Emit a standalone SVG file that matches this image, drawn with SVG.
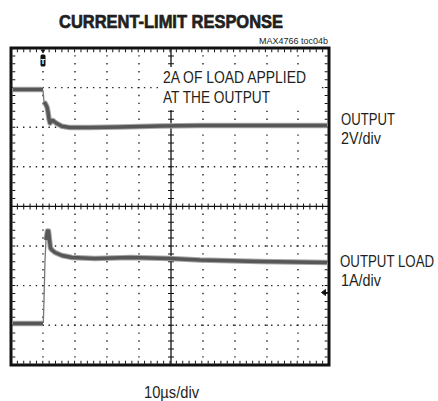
<svg xmlns="http://www.w3.org/2000/svg" width="438" height="401" viewBox="0 0 438 401">
<style>
text{font-family:"Liberation Sans",Arial,sans-serif;fill:#231f20}
.lbl{font-size:16px}
.dv{stroke:#222;stroke-width:1.4;stroke-dasharray:1.4 6.52;fill:none}
.dh{stroke:#222;stroke-width:1.4;stroke-dasharray:1.4 4.96;fill:none}
.tr{fill:none;stroke-linejoin:round;stroke-linecap:butt}
.fz{stroke:#a8a8a8;stroke-width:5.5}
.cr{stroke:#575757;stroke-width:3.5}
.th{stroke:#777;stroke-width:1.3}
</style>
<rect width="438" height="401" fill="#fff"/>
<text x="59" y="28" font-size="19" font-weight="bold" stroke="#231f20" stroke-width="0.7" textLength="224" lengthAdjust="spacingAndGlyphs">CURRENT-LIMIT RESPONSE</text>
<text x="259" y="44" font-size="9" textLength="69" lengthAdjust="spacingAndGlyphs">MAX4766 toc04b</text>
<g id="grid">
<path class="dv" d="M43,55.2V365M75,55.2V365M107,55.2V365M139,55.2V365M203,55.2V365M235,55.2V365M267,55.2V365M298,55.2V365"/>
<path class="dh" d="M16.66,87.6H329M16.66,127.2H329M16.66,166.8H329M16.66,246H329M16.66,285.6H329M16.66,325.2H329"/>
<line x1="10.5" y1="206.4" x2="329" y2="206.4" stroke="#111" stroke-width="6" stroke-dasharray="1 5.36"/>
<line x1="11" y1="206.4" x2="329" y2="206.4" stroke="#111" stroke-width="1.3"/>
<line x1="171" y1="47.5" x2="171" y2="365" stroke="#111" stroke-width="6" stroke-dasharray="1 6.92"/>
<line x1="171" y1="48" x2="171" y2="365" stroke="#111" stroke-width="1.3"/>
<line x1="10.5" y1="50.8" x2="329" y2="50.8" stroke="#111" stroke-width="3" stroke-dasharray="1 5.36"/>
<line x1="10.5" y1="362.2" x2="329" y2="362.2" stroke="#111" stroke-width="3" stroke-dasharray="1 5.36"/>
<line x1="13.8" y1="47.5" x2="13.8" y2="365" stroke="#111" stroke-width="3" stroke-dasharray="1 6.92"/>
<line x1="326.2" y1="47.5" x2="326.2" y2="365" stroke="#111" stroke-width="3" stroke-dasharray="1 6.92"/>
<rect x="11" y="48" width="318" height="317" fill="none" stroke="#111" stroke-width="3"/>
</g>
<g id="traces">
<path class="tr fz" d="M13,89.5 L43,89.5"/>
<path class="tr cr" d="M13,89.5 L43,89.5"/>
<path class="tr th" d="M43,90 L44,102"/>
<path class="tr fz" d="M44,102 L45.5,104 L47,107 L48,112 L49,119 L50,123 L51.5,121 L53,120.5 L56,123 L62,126.3 L70,127.6 L90,127.6 L120,127 L160,126 L200,125.5 L327,125.5"/>
<path class="tr cr" d="M44,102 L45.5,104 L47,107 L48,112 L49,119 L50,123 L51.5,121 L53,120.5 L56,123 L62,126.3 L70,127.6 L90,127.6 L120,127 L160,126 L200,125.5 L327,125.5"/>
<path class="tr fz" d="M13,323.5 L43,323.5"/>
<path class="tr cr" d="M13,323.5 L43,323.5"/>
<path class="tr th" d="M43.3,323 L44,300 L45,260 L46,240"/>
<path class="tr fz" d="M46,240 L47.5,231 L48.5,231 L49.5,240 L50.5,248 L52,250 L55,252.5 L62,255.5 L72,257.5 L95,258.5 L130,257.5 L170,258.5 L200,260 L260,261.5 L327,262.5"/>
<path class="tr cr" d="M46,240 L47.5,231 L48.5,231 L49.5,240 L50.5,248 L52,250 L55,252.5 L62,255.5 L72,257.5 L95,258.5 L130,257.5 L170,258.5 L200,260 L260,261.5 L327,262.5"/>
</g>
<g id="markers">
<path d="M40.5,49.5 L45.5,49.5 L43,53.5 Z" fill="#111"/>
<rect x="40.5" y="54.5" width="5" height="12" rx="1.5" fill="#111"/>
<text x="43" y="64" font-size="8" font-weight="bold" text-anchor="middle" style="fill:#fff">T</text>
<path d="M321.5,292.5 L325.5,289.5 L325.5,295.5 Z M325,292.5 H328" fill="#111" stroke="#111" stroke-width="1"/>
</g>
<g id="annotation">
<rect x="158" y="67" width="159" height="43" fill="#fff"/>
<text class="lbl" x="163" y="83" textLength="143" lengthAdjust="spacingAndGlyphs">2A OF LOAD APPLIED</text>
<text class="lbl" x="163" y="103" textLength="107" lengthAdjust="spacingAndGlyphs">AT THE OUTPUT</text>
</g>
<g id="labels">
<text class="lbl" transform="translate(341,125) scale(0.82,1)">OUTPUT</text>
<text class="lbl" transform="translate(341,144) scale(0.9,1)">2V/div</text>
<text class="lbl" transform="translate(340,267) scale(0.83,1)">OUTPUT LOAD</text>
<text class="lbl" transform="translate(341,286) scale(0.9,1)">1A/div</text>
<text class="lbl" x="144" y="398" textLength="55" lengthAdjust="spacingAndGlyphs">10µs/div</text>
</g>
</svg>
